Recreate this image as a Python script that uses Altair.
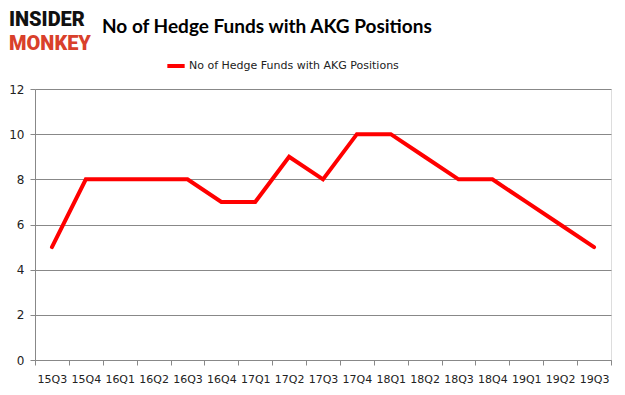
import altair as alt
import pandas as pd

quarters = ["15Q3", "15Q4", "16Q1", "16Q2", "16Q3", "16Q4", "17Q1", "17Q2", "17Q3",
            "17Q4", "18Q1", "18Q2", "18Q3", "18Q4", "19Q1", "19Q2", "19Q3"]
funds = [5, 8, 8, 8, 8, 7, 7, 9, 8, 10, 10, 9, 8, 8, 7, 6, 5]
series_name = "No of Hedge Funds with AKG Positions"
title_text = ["No of Hedge Funds with AKG Positions"]
logo_top = ["INSIDER"]
logo_bottom = ["MONKEY"]

df = pd.DataFrame({"quarter": quarters, "funds": funds, "series": series_name})

line = alt.Chart(df).mark_line(strokeWidth=4, strokeCap="round", strokeJoin="miter").encode(
    x=alt.X("quarter:O", sort=quarters, bandPosition=0.5,
            scale=alt.Scale(type="band", paddingInner=0, paddingOuter=0),
            axis=alt.Axis(title=None, labelAngle=0, tickBand="extent", labelFontSize=11,
                          labelFont="DejaVu Sans", labelColor="#222", labelPadding=8,
                          domainColor="#888", tickColor="#888", tickSize=5, grid=False)),
    y=alt.Y("funds:Q", scale=alt.Scale(domain=[0, 12], nice=False),
            axis=alt.Axis(title=None, values=[0, 2, 4, 6, 8, 10, 12], labelFontSize=12,
                          labelFont="DejaVu Sans", labelColor="#222", labelPadding=6,
                          domainColor="#888", tickColor="#888", tickSize=5,
                          gridColor="#888", gridWidth=1)),
    color=alt.Color("series:N", scale=alt.Scale(range=["#ff0000"]),
                    legend=alt.Legend(title=None, orient="none", legendX=130, legendY=-34,
                                      symbolType="stroke", symbolStrokeWidth=4, symbolSize=300,
                                      labelFont="DejaVu Sans", labelFontSize=11, labelLimit=1000,
                                      labelColor="#222", labelOffset=2)),
)

title = alt.Chart(pd.DataFrame({"t": title_text})).mark_text(
    font="Lato", fontSize=19, fontWeight="bold", align="left",
    baseline="middle", color="#000").encode(
    text="t:N", x=alt.value(67), y=alt.value(-62))

logo1 = alt.Chart(pd.DataFrame({"t": logo_top})).mark_text(
    font="Roboto", fontSize=20, fontWeight=900, align="left", baseline="middle",
    color="#111").encode(text="t:N", x=alt.value(-26), y=alt.value(-69))
logo2 = alt.Chart(pd.DataFrame({"t": logo_bottom})).mark_text(
    font="Roboto", fontSize=20, fontWeight=900, align="left", baseline="middle",
    color="#d9402b").encode(text="t:N", x=alt.value(-26), y=alt.value(-45))

chart = alt.layer(line, title, logo1, logo2).properties(
    width=576, height=271,
    autosize=alt.AutoSizeParams(type="none"),
    padding={"left": 27, "top": 81, "right": 6, "bottom": 30},
).configure_view(stroke=None).configure(background="white")

chart.save("out.html", embed_options={"renderer": "svg", "actions": False})
